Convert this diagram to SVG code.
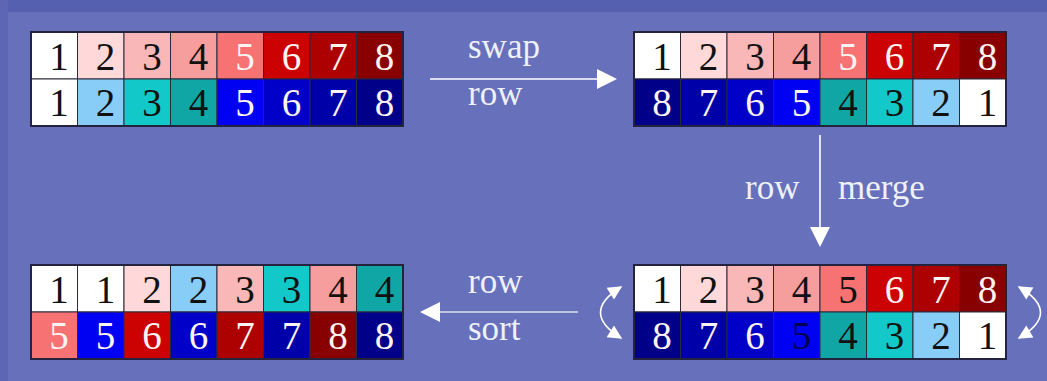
<svg xmlns="http://www.w3.org/2000/svg" width="1047" height="381" viewBox="0 0 1047 381">
<style>
.cell{stroke:#2a2a3a;stroke-width:1}
.frame{fill:none;stroke:#23233d;stroke-width:2}
.d{font-family:"Liberation Serif","Times New Roman",serif;font-size:39px;text-anchor:middle}
.k{fill:#111}
.w{fill:#fff4f4}
.n{fill:#000050}
.lbl{font-family:"Liberation Serif","Times New Roman",serif;font-size:35px;fill:#eef0fa}
.conn{stroke:#ffffff;stroke-width:1.6;fill:none}
.r1{fill:#ffffff}.r2{fill:#ffd9d9}.r3{fill:#f9b7b7}.r4{fill:#f69e9e}.r5{fill:#f77272}.r6{fill:#cc0202}.r7{fill:#ad0000}.r8{fill:#880000}
.b1{fill:#ffffff}.b2{fill:#88ccf8}.b3{fill:#12c8c8}.b4{fill:#10a6a6}.b5{fill:#0000f2}.b6{fill:#0000c8}.b7{fill:#0000a8}.b8{fill:#000088}
</style>
<defs>
<marker id="ah" viewBox="0 0 10 10" refX="9" refY="5" markerWidth="36" markerHeight="20" markerUnits="userSpaceOnUse" orient="auto">
<path d="M0,0 L10,5 L0,10 Z" fill="#ffffff"/>
</marker>
<marker id="ah2" viewBox="0 0 10 10" refX="9" refY="5" markerWidth="20" markerHeight="14" markerUnits="userSpaceOnUse" orient="auto-start-reverse">
<path d="M0,0 L10,5 L0,10 Z" fill="#ffffff"/>
</marker>
</defs>
<rect x="0" y="0" width="1047" height="381" fill="#6770bb"/>
<rect x="0" y="0" width="1047" height="12" fill="#5660b0"/>
<rect x="0" y="0" width="8" height="381" fill="#5d66b4"/>

<g id="grid-start" transform="translate(31,32)">
<rect class="cell r1" x="0" y="0" width="46.5" height="47"/><rect class="cell r2" x="46.5" y="0" width="46.5" height="47"/><rect class="cell r3" x="93" y="0" width="46.5" height="47"/><rect class="cell r4" x="139.5" y="0" width="46.5" height="47"/><rect class="cell r5" x="186" y="0" width="46.5" height="47"/><rect class="cell r6" x="232.5" y="0" width="46.5" height="47"/><rect class="cell r7" x="279" y="0" width="46.5" height="47"/><rect class="cell r8" x="325.5" y="0" width="46.5" height="47"/>
<rect class="cell b1" x="0" y="47" width="46.5" height="47"/><rect class="cell b2" x="46.5" y="47" width="46.5" height="47"/><rect class="cell b3" x="93" y="47" width="46.5" height="47"/><rect class="cell b4" x="139.5" y="47" width="46.5" height="47"/><rect class="cell b5" x="186" y="47" width="46.5" height="47"/><rect class="cell b6" x="232.5" y="47" width="46.5" height="47"/><rect class="cell b7" x="279" y="47" width="46.5" height="47"/><rect class="cell b8" x="325.5" y="47" width="46.5" height="47"/>
<rect class="frame" x="0" y="0" width="372" height="94"/>
<text class="d k" x="28" y="38">1</text><text class="d k" x="74.5" y="38">2</text><text class="d k" x="121" y="38">3</text><text class="d k" x="167.5" y="38">4</text><text class="d w" x="214" y="38">5</text><text class="d w" x="260.5" y="38">6</text><text class="d w" x="307" y="38">7</text><text class="d w" x="353.5" y="38">8</text>
<text class="d k" x="28" y="84">1</text><text class="d k" x="74.5" y="84">2</text><text class="d k" x="121" y="84">3</text><text class="d k" x="167.5" y="84">4</text><text class="d w" x="214" y="84">5</text><text class="d w" x="260.5" y="84">6</text><text class="d w" x="307" y="84">7</text><text class="d w" x="353.5" y="84">8</text>
</g>

<g id="grid-swapped" transform="translate(634,32)">
<rect class="cell r1" x="0" y="0" width="46.5" height="47"/><rect class="cell r2" x="46.5" y="0" width="46.5" height="47"/><rect class="cell r3" x="93" y="0" width="46.5" height="47"/><rect class="cell r4" x="139.5" y="0" width="46.5" height="47"/><rect class="cell r5" x="186" y="0" width="46.5" height="47"/><rect class="cell r6" x="232.5" y="0" width="46.5" height="47"/><rect class="cell r7" x="279" y="0" width="46.5" height="47"/><rect class="cell r8" x="325.5" y="0" width="46.5" height="47"/>
<rect class="cell b8" x="0" y="47" width="46.5" height="47"/><rect class="cell b7" x="46.5" y="47" width="46.5" height="47"/><rect class="cell b6" x="93" y="47" width="46.5" height="47"/><rect class="cell b5" x="139.5" y="47" width="46.5" height="47"/><rect class="cell b4" x="186" y="47" width="46.5" height="47"/><rect class="cell b3" x="232.5" y="47" width="46.5" height="47"/><rect class="cell b2" x="279" y="47" width="46.5" height="47"/><rect class="cell b1" x="325.5" y="47" width="46.5" height="47"/>
<rect class="frame" x="0" y="0" width="372" height="94"/>
<text class="d k" x="28" y="38">1</text><text class="d k" x="74.5" y="38">2</text><text class="d k" x="121" y="38">3</text><text class="d k" x="167.5" y="38">4</text><text class="d w" x="214" y="38">5</text><text class="d w" x="260.5" y="38">6</text><text class="d w" x="307" y="38">7</text><text class="d w" x="353.5" y="38">8</text>
<text class="d w" x="28" y="84">8</text><text class="d w" x="74.5" y="84">7</text><text class="d w" x="121" y="84">6</text><text class="d w" x="167.5" y="84">5</text><text class="d k" x="214" y="84">4</text><text class="d k" x="260.5" y="84">3</text><text class="d k" x="307" y="84">2</text><text class="d k" x="353.5" y="84">1</text>
</g>

<g id="grid-merged" transform="translate(634,265)">
<rect class="cell r1" x="0" y="0" width="46.5" height="47"/><rect class="cell r2" x="46.5" y="0" width="46.5" height="47"/><rect class="cell r3" x="93" y="0" width="46.5" height="47"/><rect class="cell r4" x="139.5" y="0" width="46.5" height="47"/><rect class="cell r5" x="186" y="0" width="46.5" height="47"/><rect class="cell r6" x="232.5" y="0" width="46.5" height="47"/><rect class="cell r7" x="279" y="0" width="46.5" height="47"/><rect class="cell r8" x="325.5" y="0" width="46.5" height="47"/>
<rect class="cell b8" x="0" y="47" width="46.5" height="47"/><rect class="cell b7" x="46.5" y="47" width="46.5" height="47"/><rect class="cell b6" x="93" y="47" width="46.5" height="47"/><rect class="cell b5" x="139.5" y="47" width="46.5" height="47"/><rect class="cell b4" x="186" y="47" width="46.5" height="47"/><rect class="cell b3" x="232.5" y="47" width="46.5" height="47"/><rect class="cell b2" x="279" y="47" width="46.5" height="47"/><rect class="cell b1" x="325.5" y="47" width="46.5" height="47"/>
<rect class="frame" x="0" y="0" width="372" height="94"/>
<text class="d k" x="28" y="38">1</text><text class="d k" x="74.5" y="38">2</text><text class="d k" x="121" y="38">3</text><text class="d k" x="167.5" y="38">4</text><text class="d k" x="214" y="38">5</text><text class="d w" x="260.5" y="38">6</text><text class="d w" x="307" y="38">7</text><text class="d w" x="353.5" y="38">8</text>
<text class="d w" x="28" y="84">8</text><text class="d w" x="74.5" y="84">7</text><text class="d w" x="121" y="84">6</text><text class="d n" x="167.5" y="84">5</text><text class="d k" x="214" y="84">4</text><text class="d k" x="260.5" y="84">3</text><text class="d k" x="307" y="84">2</text><text class="d k" x="353.5" y="84">1</text>
</g>

<g id="grid-sorted" transform="translate(31,265)">
<rect class="cell r1" x="0" y="0" width="46.5" height="47"/><rect class="cell b1" x="46.5" y="0" width="46.5" height="47"/><rect class="cell r2" x="93" y="0" width="46.5" height="47"/><rect class="cell b2" x="139.5" y="0" width="46.5" height="47"/><rect class="cell r3" x="186" y="0" width="46.5" height="47"/><rect class="cell b3" x="232.5" y="0" width="46.5" height="47"/><rect class="cell r4" x="279" y="0" width="46.5" height="47"/><rect class="cell b4" x="325.5" y="0" width="46.5" height="47"/>
<rect class="cell r5" x="0" y="47" width="46.5" height="47"/><rect class="cell b5" x="46.5" y="47" width="46.5" height="47"/><rect class="cell r6" x="93" y="47" width="46.5" height="47"/><rect class="cell b6" x="139.5" y="47" width="46.5" height="47"/><rect class="cell r7" x="186" y="47" width="46.5" height="47"/><rect class="cell b7" x="232.5" y="47" width="46.5" height="47"/><rect class="cell r8" x="279" y="47" width="46.5" height="47"/><rect class="cell b8" x="325.5" y="47" width="46.5" height="47"/>
<rect class="frame" x="0" y="0" width="372" height="94"/>
<text class="d k" x="28" y="38">1</text><text class="d k" x="74.5" y="38">1</text><text class="d k" x="121" y="38">2</text><text class="d k" x="167.5" y="38">2</text><text class="d k" x="214" y="38">3</text><text class="d k" x="260.5" y="38">3</text><text class="d k" x="307" y="38">4</text><text class="d k" x="353.5" y="38">4</text>
<text class="d w" x="28" y="84">5</text><text class="d w" x="74.5" y="84">5</text><text class="d w" x="121" y="84">6</text><text class="d w" x="167.5" y="84">6</text><text class="d w" x="214" y="84">7</text><text class="d w" x="260.5" y="84">7</text><text class="d w" x="307" y="84">8</text><text class="d w" x="353.5" y="84">8</text>
</g>

<g id="connectors">
<line class="conn" x1="430" y1="79" x2="615" y2="79" marker-end="url(#ah)"/>
<line class="conn" x1="820" y1="135" x2="820" y2="245" marker-end="url(#ah)"/>
<line class="conn" x1="578" y1="312" x2="422" y2="312" marker-end="url(#ah)" style="stroke:#dcdff2"/>
<path class="conn" d="M621,287 Q580,312.5 621,338" marker-start="url(#ah2)" marker-end="url(#ah2)"/>
<path class="conn" d="M1019,287 Q1062,312.5 1019,338" marker-start="url(#ah2)" marker-end="url(#ah2)"/>
</g>

<g id="labels">
<text class="lbl" x="468" y="58">swap</text>
<text class="lbl" x="468" y="105">row</text>
<text class="lbl" x="745" y="199">row</text>
<text class="lbl" x="838" y="199">merge</text>
<text class="lbl" x="468" y="293">row</text>
<text class="lbl" x="468" y="340">sort</text>
</g>
</svg>
